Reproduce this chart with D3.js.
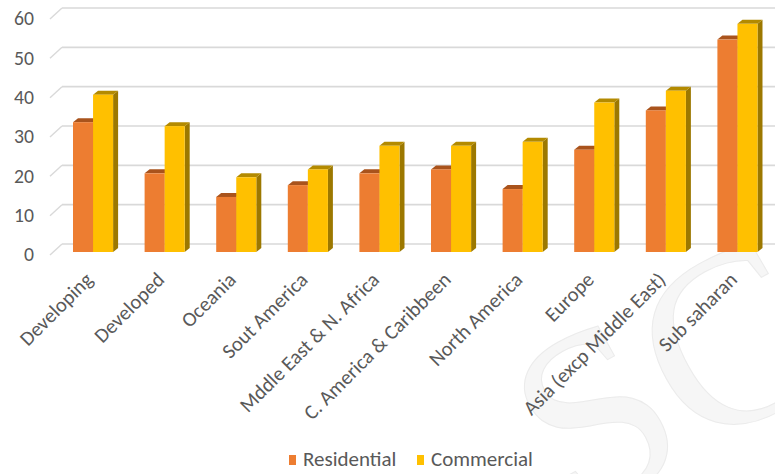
<!DOCTYPE html>
<html>
<head>
<meta charset="utf-8">
<script src="https://cdn.jsdelivr.net/npm/d3@7"></script>
<style>
  html, body { margin: 0; padding: 0; background: #ffffff; }
  svg { display: block; }
  text { font-family: Carlito, Lato, "Open Sans", sans-serif; fill: #595959; }
</style>
</head>
<body>
<div id="chart"></div>
<script>
// Regions and the two building categories
const categories = [
  "Developing", "Developed", "Oceania", "Sout America", "Mddle East & N. Africa",
  "C. America & Caribbeen", "North America", "Europe", "Asia (excp Middle East)", "Sub saharan"
];
const seriesNames = ["Residential", "Commercial"];
const residential = [33, 20, 14, 17, 20, 21, 16, 26, 36, 54];
const commercial  = [40, 32, 19, 21, 27, 27, 28, 38, 41, 58];
const yTicks = [0, 10, 20, 30, 40, 50, 60];

const W = 775, H = 474;
const colors = {
  Residential: { front: "#ED7D31", top: "#A9531C", side: "#B85A1E" },
  Commercial:  { front: "#FFC000", top: "#B38A00", side: "#9C7800" }
};

// 3D depth offsets: bar depth and wall depth
const bdx = 5, bdy = 4;
const wdx = 12, wdy = 11;

const svg = d3.select("#chart").append("svg")
  .attr("width", W).attr("height", H)
  .attr("viewBox", `0 0 ${W} ${H}`);

svg.append("rect").attr("width", W).attr("height", H).attr("fill", "#ffffff");

// faint background lettering
svg.append("text")
  .attr("transform", "translate(575,522) rotate(-29)")
  .style("font-family", "'Liberation Serif', serif")
  .style("font-size", "250px")
  .style("fill", "#f6f6f6")
  .style("stroke", "#ebebeb")
  .style("stroke-width", 1)
  .text("SC");

const y = d3.scaleLinear().domain([0, 60]).range([252, 16]);
const x = d3.scaleBand().domain(categories)
  .range([57.25, 773.25]).paddingInner(0.44).paddingOuter(0.22);
const xs = d3.scaleBand().domain(seriesNames).range([0, x.bandwidth()]);

// back-wall gridlines and the diagonal connectors to the front plane
const grid = svg.append("g");
grid.selectAll("line.g").data(yTicks).join("line")
  .attr("x1", 50 + wdx).attr("x2", W)
  .attr("y1", d => y(d) - 8).attr("y2", d => y(d) - 8)
  .attr("stroke", "#d9d9d9").attr("stroke-width", 1.6);
grid.selectAll("line.d").data(yTicks).join("line")
  .attr("x1", 50).attr("y1", d => y(d) - 8 + wdy)
  .attr("x2", 50 + wdx).attr("y2", d => y(d) - 8)
  .attr("stroke", "#d9d9d9").attr("stroke-width", 1.4);

// y tick labels
svg.append("g").selectAll("text").data(yTicks).join("text")
  .attr("x", 34).attr("y", d => y(d) + 4.5)
  .attr("text-anchor", "end").attr("dominant-baseline", "middle")
  .style("font-size", "19.7px")
  .text(d => d);

// bars as 3D prisms: front, top and right side
const rows = categories.map((c, i) => ({ c, Residential: residential[i], Commercial: commercial[i] }));
const bars = svg.append("g");
rows.forEach(r => {
  seriesNames.forEach(s => {
    const x0 = x(r.c) + xs(s), w = xs.bandwidth();
    const yt = y(r[s]), yb = y(0);
    const g = bars.append("g");
    g.append("polygon")
      .attr("points", [[x0 + w, yt], [x0 + w + bdx, yt - bdy], [x0 + w + bdx, yb - bdy], [x0 + w, yb]].join(" "))
      .attr("fill", colors[s].side);
    g.append("polygon")
      .attr("points", [[x0, yt], [x0 + bdx, yt - bdy], [x0 + w + bdx, yt - bdy], [x0 + w, yt]].join(" "))
      .attr("fill", colors[s].top);
    g.append("rect")
      .attr("x", x0).attr("y", yt).attr("width", w).attr("height", yb - yt)
      .attr("fill", colors[s].front);
  });
});

// category labels, rotated
svg.append("g").selectAll("text").data(categories).join("text")
  .attr("transform", d => `translate(${x(d) + x.bandwidth() / 2 + 1},${281}) rotate(-45)`)
  .attr("text-anchor", "end")
  .style("font-size", "20.5px")
  .text(d => d);

// legend
const legend = svg.append("g");
const lx = [289, 417];
seriesNames.forEach((s, i) => {
  legend.append("rect")
    .attr("x", lx[i]).attr("y", 455).attr("width", 7).attr("height", 10)
    .attr("fill", colors[s].front);
  legend.append("text")
    .attr("x", lx[i] + 14).attr("y", 466)
    .style("font-size", "21px")
    .text(s);
});
</script>
</body>
</html>
